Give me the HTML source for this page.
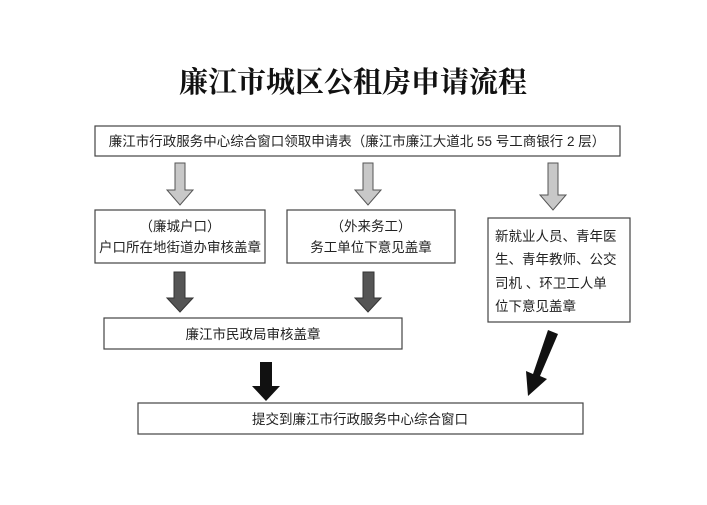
<!DOCTYPE html>
<html><head><meta charset="utf-8"><style>
body{margin:0;background:#fff}
svg text{font-family:"Liberation Sans","Noto Sans CJK SC",sans-serif;fill:#222}
</style></head><body>
<svg width="707" height="500" xmlns="http://www.w3.org/2000/svg">
<rect width="707" height="500" fill="#fff"/>
<text x="353" y="92" text-anchor="middle" style="font-family:'Liberation Serif','Noto Serif CJK SC',serif;font-weight:bold;font-size:29px;fill:#111">廉江市城区公租房申请流程</text>
<g fill="#fff" stroke="#444" stroke-width="1.2">
<rect x="95" y="126" width="525" height="30"/>
<rect x="95" y="210" width="170" height="53"/>
<rect x="287" y="210" width="168" height="53"/>
<rect x="488" y="218" width="142" height="104"/>
<rect x="104" y="318" width="298" height="31"/>
<rect x="138" y="403" width="445" height="31"/>
</g>
<g font-size="13.5">
<text x="357" y="146" text-anchor="middle">廉江市行政服务中心综合窗口领取申请表（廉江市廉江大道北 55 号工商银行 2 层）</text>
<text x="180" y="231" text-anchor="middle">（廉城户口）</text>
<text x="180" y="252" text-anchor="middle">户口所在地街道办审核盖章</text>
<text x="371" y="231" text-anchor="middle">（外来务工）</text>
<text x="371" y="252" text-anchor="middle">务工单位下意见盖章</text>
<text x="495" y="241">新就业人员、青年医</text>
<text x="495" y="264">生、青年教师、公交</text>
<text x="495" y="288">司机 、环卫工人单</text>
<text x="495" y="311">位下意见盖章</text>
<text x="253" y="339" text-anchor="middle">廉江市民政局审核盖章</text>
<text x="360" y="424" text-anchor="middle">提交到廉江市行政服务中心综合窗口</text>
</g>
<g fill="#c8c8c8" stroke="#555" stroke-width="1">
<polygon points="175,163 185,163 185,190 193,190 180,205 167,190 175,190"/>
<polygon points="363,163 373,163 373,190 381,190 368,205 355,190 363,190"/>
<polygon points="548,163 558,163 558,195 566,195 553,210 540,195 548,195"/>
</g>
<g fill="#555" stroke="#333" stroke-width="1">
<polygon points="174,272 185,272 185,298 193,298 180,312 167,298 174,298"/>
<polygon points="363,272 374,272 374,298 381,298 368,312 355,298 363,298"/>
</g>
<g fill="#111">
<polygon points="260,362 272,362 272,386 280,386 266,401 252,386 260,386"/>
<polygon points="548,330 558,334 540,376 547,379 528,396 526,371 533,374"/>
</g>
</svg>
</body></html>
